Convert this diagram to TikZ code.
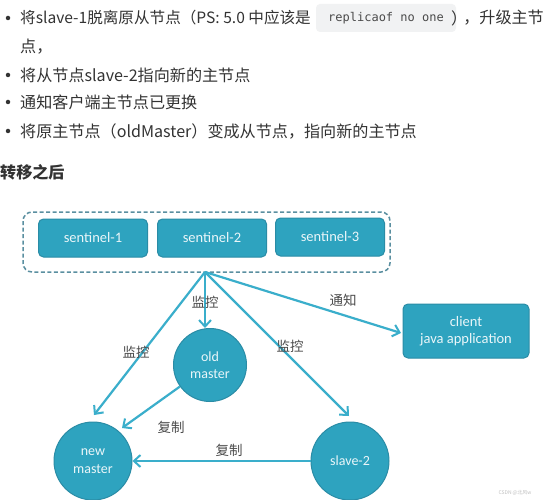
\documentclass[tikz,border=0pt]{standalone}
\usepackage{fontspec}
\setmainfont{Noto Sans CJK SC}
\newfontfamily\calfont{Carlito}
\newfontfamily\monofont{DejaVu Sans Mono}
\usetikzlibrary{arrows.meta}
\definecolor{teal1}{HTML}{2EA3BF}
\definecolor{tealb}{HTML}{2A8CA6}
\definecolor{arrowc}{HTML}{3AAECB}
\definecolor{dashc}{HTML}{5A8FA0}
\definecolor{bodyc}{HTML}{333333}
\definecolor{labc}{HTML}{4A4A4A}
\definecolor{codebg}{HTML}{F1F2F3}
\definecolor{boxtext}{HTML}{EAF6F9}
\begin{document}
\begin{tikzpicture}[x=1pt,y=-1pt,
  bodytext/.style={anchor=west,inner sep=0pt,text=bodyc,font=\fontsize{16.1}{18}\selectfont},
  bulletdot/.style={circle,fill=bodyc,inner sep=0pt,minimum size=4.5pt},
  sentbox/.style={draw=tealb,line width=1pt,fill=teal1,rounded corners=5pt,minimum width=109pt,minimum height=38pt,text=boxtext,font=\calfont\fontsize{14.5}{17}\selectfont,align=center},
  roundnode/.style={circle,draw=tealb,line width=1pt,fill=teal1,minimum size=78pt,text=boxtext,font=\calfont\fontsize{14}{17.5}\selectfont,align=center,inner sep=0pt},
  conn/.style={draw=arrowc,line width=2.2pt,-{Straight Barb[length=6.5pt,width=12pt,line width=2pt]}},
  lab/.style={text=labc,font=\fontsize{13.5}{15}\selectfont,inner sep=1pt}
]
\useasboundingbox (0,0) rectangle (546,500);
\fill[white] (0,0) rectangle (546,500);

% bullet list
\node[bulletdot] (b1) at (8,18) {};
\node[bodytext,font=\fontsize{15.6}{18}\selectfont] (t1) at (20,18) {将slave-1脱离原从节点（PS: 5.0 中应该是};
\fill[codebg, rounded corners=4pt] (316,4) rectangle (456,32);
\node[inner sep=0pt,text=labc,font=\monofont\fontsize{12}{15}\selectfont] (code) at (386,18) {replicaof no one};
\node[bodytext] (t1p) at (451,18) {）};
\node[bodytext,anchor=east] (t1b) at (544,18) {，升级主节};
\node[bodytext] (t2) at (20,47) {点，};
\node[bulletdot] (b3) at (8,75) {};
\node[bodytext] (t3) at (20,75) {将从节点slave-2指向新的主节点};
\node[bulletdot] (b4) at (8,102) {};
\node[bodytext] (t4) at (20,102) {通知客户端主节点已更换};
\node[bulletdot] (b5) at (8,131) {};
\node[bodytext] (t5) at (20,131) {将原主节点（oldMaster）变成从节点，指向新的主节点};

\node[bodytext,font=\fontsize{16.1}{18}\selectfont\bfseries] (head) at (0,172) {转移之后};

% diagram
\draw[dashc,line width=1.5pt,dashed,dash pattern=on 4pt off 2.5pt,rounded corners=9pt] (23,212) rectangle (390,272);
\node[sentbox] (s1) at (93,238) {sentinel-1};
\node[sentbox] (s2) at (212,238) {sentinel-2};
\node[sentbox] (s3) at (330,237) {sentinel-3};
\coordinate (src) at (205,272);

\node[sentbox,minimum width=126pt,minimum height=54pt] (client) at (466,331) {client\\java application};
\node[roundnode,minimum size=73pt] (old) at (210,365) {old\\master};
\node[roundnode] (new) at (93,461) {new\\master};
\node[roundnode] (sl2) at (350,461) {slave-2};

\coordinate (tOld) at (205,328);
\coordinate (tNew) at (94,415);
\coordinate (tSl) at (349,416);
\coordinate (tCl) at (401,333);

\draw[conn] (src) -- (tOld);
\draw[conn] (src) -- (tNew);
\draw[conn] (src) -- (tSl);
\draw[conn] (src) -- (tCl);
\draw[conn] (old) -- (122,428);
\draw[conn] (sl2) -- (new);

\node[lab] (l1) at (205,302) {监控};
\node[lab] (l2) at (136,352) {监控};
\node[lab] (l3) at (290,346) {监控};
\node[lab] (l4) at (343,300) {通知};
\node[lab] (l5) at (171,427) {复制};
\node[lab] (l6) at (229,450) {复制};

\node[text=gray!50,font=\fontsize{5}{6}\selectfont,inner sep=0pt] (wm) at (515,493) {CSDN @北风w};
\end{tikzpicture}
\end{document}
